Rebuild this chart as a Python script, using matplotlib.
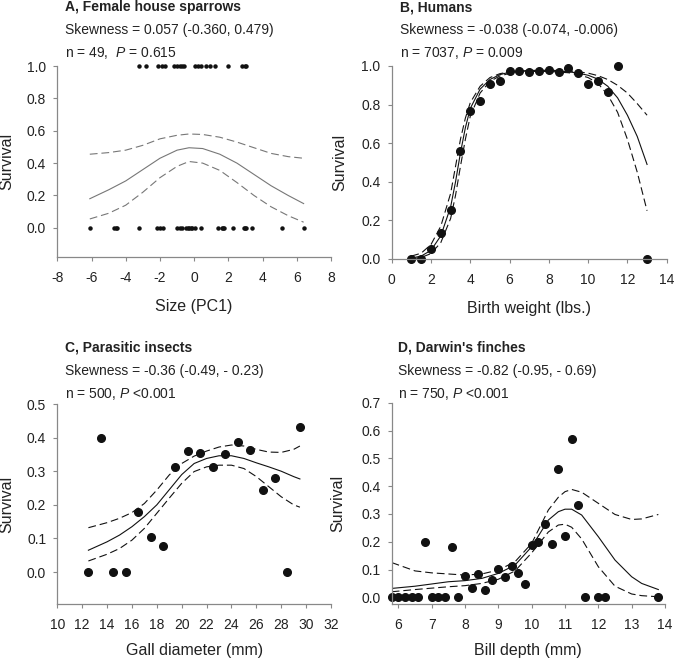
import matplotlib
matplotlib.use('Agg')
import matplotlib.pyplot as plt

plt.rcParams['font.family'] = ['Liberation Sans', 'DejaVu Sans']
plt.rcParams['mathtext.fontset'] = 'custom'
plt.rcParams['mathtext.rm'] = 'Liberation Sans'
plt.rcParams['mathtext.it'] = 'Liberation Sans:italic'
plt.rcParams['axes.unicode_minus'] = False

# A, Female house sparrows (survived = 1, died = 0)
a_surv_x = [-3.2, -2.8, -2.1, -1.9, -1.7, -1.2, -1.0, -0.85, -0.7, -0.6,
            0.05, 0.2, 0.4, 0.7, 0.95, 1.2, 2.0, 2.8, 2.95, 3.05]
a_dead_x = [-6.1, -4.7, -4.55, -4.5, -3.2, -2.2, -2.0, -1.8, -1.0, -0.85,
            -0.7, -0.5, -0.35, -0.3, -0.2, -0.15, 0.05, 0.4, 1.4, 1.6,
            1.7, 1.75, 2.25, 2.9, 2.95, 3.05, 3.4, 5.15, 6.4]
a_fit_x = [-6.1, -5, -4, -3, -2, -1, -0.3, 0.5, 1.5, 2.5, 3.5, 4.5, 5.5, 6.4]
a_fit = [0.18, 0.235, 0.29, 0.36, 0.43, 0.48, 0.495, 0.49, 0.455, 0.40, 0.33, 0.26, 0.20, 0.15]
a_hi = [0.455, 0.465, 0.48, 0.51, 0.55, 0.572, 0.58, 0.577, 0.56, 0.53, 0.495, 0.46, 0.44, 0.43]
a_lo = [0.055, 0.09, 0.14, 0.22, 0.31, 0.38, 0.41, 0.40, 0.355, 0.28, 0.20, 0.13, 0.075, 0.035]

# B, Humans
b_x = [1, 1.5, 2, 2.5, 3, 3.5, 4, 4.5, 5, 5.5, 6, 6.5, 7, 7.5, 8, 8.5,
       9, 9.5, 10, 10.5, 11, 11.5, 13]
b_y = [0, 0, 0.052, 0.134, 0.255, 0.562, 0.767, 0.819, 0.905, 0.922, 0.976,
       0.976, 0.971, 0.976, 0.979, 0.967, 0.988, 0.966, 0.905, 0.922, 0.867, 1.0, 0]
b_fit_x = [1, 1.5, 2, 2.5, 3, 3.25, 3.5, 3.75, 4, 4.5, 5, 5.5, 6, 7, 8, 9,
           9.5, 10, 10.5, 11, 11.5, 12, 12.5, 13]
b_fit = [0.005, 0.015, 0.045, 0.12, 0.27, 0.4, 0.55, 0.68, 0.78, 0.88, 0.93, 0.955,
         0.968, 0.975, 0.975, 0.97, 0.963, 0.952, 0.932, 0.895, 0.835, 0.745, 0.635, 0.49]
b_hi = [0.015, 0.03, 0.075, 0.17, 0.34, 0.48, 0.62, 0.73, 0.81, 0.895, 0.94, 0.96,
        0.97, 0.977, 0.978, 0.975, 0.97, 0.963, 0.95, 0.93, 0.9, 0.86, 0.805, 0.745]
b_lo = [0.0, 0.008, 0.028, 0.085, 0.21, 0.33, 0.48, 0.62, 0.74, 0.86, 0.92, 0.948,
        0.962, 0.972, 0.972, 0.965, 0.955, 0.94, 0.91, 0.85, 0.76, 0.62, 0.45, 0.25]

# C, Parasitic insects
c_x = [12.5, 13.5, 14.5, 15.5, 16.5, 17.5, 18.5, 19.5, 20.5, 21.5, 22.5,
       23.5, 24.5, 25.5, 26.5, 27.5, 28.5, 29.5]
c_y = [0, 0.40, 0, 0, 0.18, 0.105, 0.077, 0.312, 0.36, 0.354, 0.312,
       0.352, 0.388, 0.362, 0.244, 0.279, 0, 0.431]
c_fit_x = [12.5, 14, 15, 16, 17, 18, 19, 20, 21, 22, 23, 24, 25, 26, 27, 28, 29, 29.5]
c_fit = [0.065, 0.09, 0.11, 0.135, 0.165, 0.2, 0.245, 0.29, 0.323, 0.338, 0.346,
         0.346, 0.338, 0.325, 0.313, 0.3, 0.284, 0.277]
c_hi = [0.132, 0.147, 0.16, 0.177, 0.204, 0.244, 0.289, 0.323, 0.345, 0.36, 0.372,
        0.378, 0.375, 0.365, 0.357, 0.356, 0.365, 0.375]
c_lo = [0.033, 0.053, 0.07, 0.095, 0.13, 0.175, 0.22, 0.264, 0.299, 0.313, 0.318,
        0.318, 0.308, 0.284, 0.254, 0.224, 0.2, 0.193]

# D, Darwin's finches
d_x = [5.8, 6.0, 6.2, 6.4, 6.6, 6.8, 7.0, 7.2, 7.4, 7.6, 7.8, 8.0, 8.2, 8.4,
       8.6, 8.8, 9.0, 9.2, 9.4, 9.6, 9.8, 10.0, 10.2, 10.4, 10.6, 10.8, 11.0,
       11.2, 11.4, 11.6, 12.0, 12.2, 13.8]
d_y = [0, 0, 0, 0, 0, 0.2, 0, 0, 0, 0.182, 0, 0.077, 0.034, 0.084, 0.026,
       0.062, 0.102, 0.074, 0.113, 0.086, 0.048, 0.188, 0.2, 0.265, 0.193,
       0.462, 0.222, 0.57, 0.333, 0, 0, 0, 0]
d_fit_x = [5.8, 6.5, 7, 7.5, 8, 8.5, 9, 9.5, 10, 10.5, 10.8, 11, 11.2, 11.5,
           12, 12.5, 13, 13.3, 13.8]
d_fit = [0.032, 0.04, 0.048, 0.056, 0.06, 0.068, 0.086, 0.116, 0.182, 0.278,
         0.308, 0.317, 0.317, 0.296, 0.218, 0.134, 0.074, 0.05, 0.028]
d_hi = [0.125, 0.095, 0.088, 0.084, 0.08, 0.084, 0.098, 0.128, 0.194, 0.314,
        0.36, 0.38, 0.388, 0.378, 0.338, 0.298, 0.28, 0.282, 0.298]
d_lo = [0.02, 0.028, 0.033, 0.038, 0.042, 0.05, 0.065, 0.095, 0.16, 0.235,
        0.26, 0.263, 0.252, 0.21, 0.11, 0.04, 0.012, 0.006, 0.002]

fig = plt.figure(figsize=(6.75, 6.6), dpi=100)
W, H = 675, 660
TXT = '#222222'


def make_ax(x0, x1, ytop, ybot):
    return fig.add_axes([x0 / W, 1 - ybot / H, (x1 - x0) / W, (ybot - ytop) / H])


def style(ax):
    for s in ['top', 'right']:
        ax.spines[s].set_visible(False)
    for s in ['left', 'bottom']:
        ax.spines[s].set_color('#888888')
        ax.spines[s].set_linewidth(0.9)
    ax.tick_params(direction='out', length=3, width=0.8, color='#888888',
                   labelsize=10, labelcolor=TXT)
    ax.tick_params(axis='x', pad=7)
    ax.tick_params(axis='y', pad=5)


def header(x, y, title, skew, nline):
    fig.text(x / W, 1 - y / H, title, fontsize=10, fontweight='bold',
             color=TXT, va='center')
    fig.text(x / W, 1 - (y + 23) / H, skew, fontsize=10, color=TXT, va='center')
    fig.text(x / W, 1 - (y + 46) / H, nline, fontsize=10, color=TXT, va='center')


def labels(ax, xl, xlab_y, ylab_x):
    ax.set_xlabel(xl, fontsize=11.5, color=TXT)
    ax.set_ylabel('Survival', fontsize=11.5, color=TXT)
    ax.xaxis.set_label_coords(0.5, xlab_y)
    ax.yaxis.set_label_coords(ylab_x, 0.5)


dash = (0, (7, 3.5))

# Panel A
ax = make_ax(57.3, 331, 66, 257)
style(ax)
ax.plot(a_surv_x, [1.0] * len(a_surv_x), 'o', color='#111111', ms=2.2, clip_on=False)
ax.plot(a_dead_x, [0.0] * len(a_dead_x), 'o', color='#111111', ms=2.2, clip_on=False)
ax.plot(a_fit_x, a_fit, color='#777777', lw=0.8)
ax.plot(a_fit_x, a_hi, color='#777777', lw=0.8, linestyle=dash)
ax.plot(a_fit_x, a_lo, color='#777777', lw=0.8, linestyle=dash)
ax.set_xlim(-8, 8)
ax.set_ylim(-0.18, 1.0)
ax.set_xticks(range(-8, 9, 2))
ax.set_yticks([0, 0.2, 0.4, 0.6, 0.8, 1.0])
ax.set_yticklabels(['0.0', '0.2', '0.4', '0.6', '0.8', '1.0'])
labels(ax, 'Size (PC1)', -0.22, -0.158)
header(65, 7, 'A, Female house sparrows', 'Skewness = 0.057 (-0.360, 0.479)',
       r'n = 49,  $P$ = 0.615')

# Panel B
ax = make_ax(391.7, 666.7, 66, 259)
style(ax)
ax.plot(b_fit_x, b_fit, color='#111111', lw=0.8)
ax.plot(b_fit_x, b_hi, color='#111111', lw=0.8, linestyle=dash)
ax.plot(b_fit_x, b_lo, color='#111111', lw=0.8, linestyle=dash)
ax.plot(b_x, b_y, 'o', color='#111111', ms=5.5, clip_on=False)
ax.set_xlim(0, 14)
ax.set_ylim(0, 1.0)
ax.set_xticks(range(0, 15, 2))
ax.set_yticks([0, 0.2, 0.4, 0.6, 0.8, 1.0])
ax.set_yticklabels(['0.0', '0.2', '0.4', '0.6', '0.8', '1.0'])
labels(ax, 'Birth weight (lbs.)', -0.22, -0.163)
header(400, 7, 'B, Humans', 'Skewness = -0.038 (-0.074, -0.006)',
       r'n = 7037, $P$ = 0.009')

# Panel C
ax = make_ax(57.3, 331, 404, 604)
style(ax)
ax.plot(c_fit_x, c_fit, color='#111111', lw=0.8)
ax.plot(c_fit_x, c_hi, color='#111111', lw=0.8, linestyle=dash)
ax.plot(c_fit_x, c_lo, color='#111111', lw=0.8, linestyle=dash)
ax.plot(c_x, c_y, 'o', color='#111111', ms=5.5, clip_on=False)
ax.set_xlim(10, 32)
ax.set_ylim(-0.095, 0.5)
ax.set_xticks(range(10, 33, 2))
ax.set_yticks([0, 0.1, 0.2, 0.3, 0.4, 0.5])
ax.set_yticklabels(['0.0', '0.1', '0.2', '0.3', '0.4', '0.5'])
labels(ax, 'Gall diameter (mm)', -0.195, -0.158)
header(65, 348, 'C, Parasitic insects', 'Skewness = -0.36 (-0.49, - 0.23)',
       r'n = 500, $P$ <0.001')

# Panel D
ax = make_ax(391.7, 665, 402.7, 604)
style(ax)
ax.plot(d_fit_x, d_fit, color='#111111', lw=0.8)
ax.plot(d_fit_x, d_hi, color='#111111', lw=0.8, linestyle=dash)
ax.plot(d_fit_x, d_lo, color='#111111', lw=0.8, linestyle=dash)
ax.plot(d_x, d_y, 'o', color='#111111', ms=5.5, clip_on=False)
ax.set_xlim(5.8, 14)
ax.set_ylim(-0.024, 0.7)
ax.set_xticks(range(6, 15))
ax.set_yticks([0, 0.1, 0.2, 0.3, 0.4, 0.5, 0.6, 0.7])
ax.set_yticklabels(['0.0', '0.1', '0.2', '0.3', '0.4', '0.5', '0.6', '0.7'])
labels(ax, 'Bill depth (mm)', -0.195, -0.171)
header(398, 348, "D, Darwin's finches", 'Skewness = -0.82 (-0.95, - 0.69)',
       r'n = 750, $P$ <0.001')

fig.savefig('out.png', dpi=100)
